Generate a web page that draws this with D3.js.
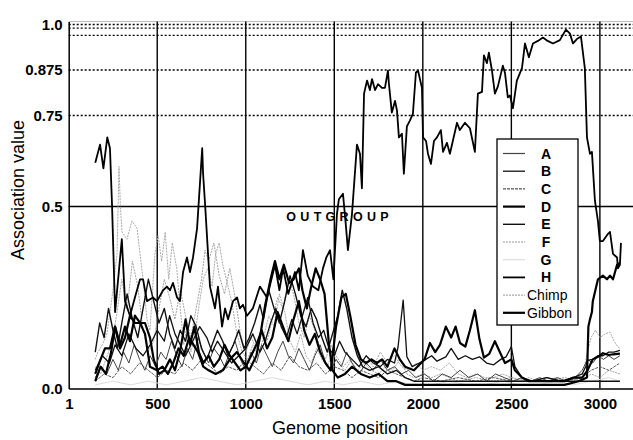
<!DOCTYPE html>
<html>
<head>
  <meta charset="utf-8">
  <title>Association value along the genome</title>
  <script src="https://d3js.org/d3.v7.min.js"></script>
  <style>
    body { margin: 0; background: #fff; }
    text { font-family: Arial, "Liberation Sans", Helvetica, sans-serif; }
  </style>
</head>
<body>
  <svg width="633" height="440"></svg>

  <script>
    // Each series: [genome position, association value]
    const seriesA = [[150,.03],[185,.06],[215,.04],[250,.08],[280,.05],[310,.10],[340,.07],[370,.12],[400,.08],[430,.05],[460,.09],[490,.06],[520,.10],[550,.08],[580,.13],[610,.09],[640,.06],[670,.11],[700,.08],[730,.14],[760,.10],[790,.07],[820,.11],[850,.09],[880,.06],[910,.10],[940,.13],[970,.08],[1000,.05],[1030,.10],[1060,.07],[1090,.12],[1120,.09],[1150,.06],[1180,.10],[1210,.13],[1240,.09],[1270,.07],[1300,.11],[1330,.08],[1360,.05],[1390,.09],[1420,.12],[1450,.07],[1480,.05],[1510,.08],[1540,.06],[1570,.10],[1600,.07],[1640,.04],[1680,.07],[1720,.05],[1760,.08],[1800,.05],[1840,.06],[1880,.04],[1920,.05],[1960,.03],[2010,.04],[2060,.02],[2110,.04],[2160,.03],[2210,.05],[2260,.03],[2310,.04],[2360,.02],[2410,.04],[2460,.03],[2510,.02],[2560,.03],[2610,.02],[2660,.03],[2710,.02],[2760,.03],[2810,.02],[2860,.03],[2900,.05],[2930,.08],[2960,.07],[2990,.09],[3020,.08],[3050,.09],[3080,.08],[3113,.09]];

    const seriesB = [[150,.05],[190,.09],[230,.07],[262,.12],[300,.09],[340,.15],[380,.11],[420,.09],[460,.12],[500,.16],[540,.13],[570,.20],[600,.15],[630,.12],[660,.09],[700,.13],[740,.17],[780,.14],[810,.10],[840,.13],[880,.10],[920,.07],[960,.09],[1000,.11],[1040,.15],[1080,.10],[1110,.13],[1140,.18],[1170,.22],[1200,.17],[1230,.14],[1260,.19],[1290,.15],[1320,.20],[1350,.25],[1380,.18],[1410,.14],[1440,.16],[1470,.11],[1500,.09],[1530,.13],[1560,.10],[1600,.08],[1640,.06],[1680,.09],[1720,.07],[1760,.06],[1800,.08],[1840,.07],[1860,.114],[1889,.243],[1910,.087],[1940,.06],[1980,.07],[2010,.078],[2050,.09],[2080,.075],[2130,.087],[2160,.11],[2200,.08],[2240,.09],[2280,.08],[2320,.087],[2360,.07],[2400,.065],[2440,.08],[2470,.087],[2500,.115],[2520,.06],[2560,.03],[2620,.02],[2700,.03],[2780,.02],[2850,.03],[2900,.04],[2920,.06],[2930,.077],[2960,.08],[2989,.09],[3017,.09],[3050,.10],[3080,.10],[3113,.105]];

    const seriesC = [[150,.02],[200,.04],[250,.03],[300,.06],[350,.04],[400,.07],[450,.05],[500,.03],[550,.05],[600,.04],[650,.07],[700,.05],[750,.08],[800,.06],[850,.04],[900,.06],[950,.05],[1000,.08],[1050,.06],[1100,.04],[1150,.07],[1200,.05],[1250,.09],[1300,.06],[1350,.05],[1400,.07],[1450,.04],[1500,.06],[1550,.05],[1600,.03],[1650,.05],[1700,.04],[1750,.03],[1800,.05],[1850,.04],[1900,.03],[1950,.02],[2000,.03],[2100,.02],[2200,.03],[2300,.02],[2400,.03],[2500,.02],[2600,.02],[2700,.03],[2800,.02],[2900,.03],[2950,.05],[3000,.06],[3050,.05],[3113,.07]];

    const seriesD = [[150,.02],[180,.06],[210,.04],[240,.10],[262,.17],[290,.12],[318,.17],[346,.13],[374,.20],[403,.18],[431,.18],[459,.14],[480,.08],[510,.04],[540,.05],[572,.08],[600,.05],[628,.10],[660,.19],[685,.12],[710,.17],[735,.10],[760,.07],[790,.09],[820,.06],[850,.08],[880,.12],[910,.09],[940,.07],[970,.05],[1000,.06],[1030,.09],[1060,.12],[1090,.16],[1120,.11],[1150,.14],[1180,.21],[1210,.17],[1240,.13],[1270,.19],[1300,.24],[1330,.16],[1360,.12],[1390,.15],[1420,.10],[1450,.07],[1480,.05],[1510,.17],[1540,.25],[1565,.26],[1590,.20],[1620,.12],[1650,.08],[1680,.07],[1710,.08],[1740,.07],[1770,.08],[1800,.06],[1840,.11],[1870,.08],[1900,.06],[1950,.05],[1990,.07],[2010,.08],[2040,.125],[2070,.10],[2097,.12],[2130,.17],[2160,.14],[2185,.17],[2210,.125],[2240,.115],[2266,.16],[2294,.215],[2320,.135],[2345,.085],[2375,.095],[2407,.13],[2440,.095],[2464,.07],[2500,.08],[2520,.05],[2560,.03],[2600,.02],[2650,.02],[2700,.02],[2750,.02],[2800,.02],[2850,.03],[2900,.03],[2930,.05],[2960,.08],[2989,.087],[3017,.097],[3050,.092],[3074,.094],[3113,.096]];

    const seriesE = [[150,.10],[175,.18],[200,.14],[225,.22],[250,.16],[275,.11],[300,.18],[330,.26],[360,.19],[390,.14],[420,.22],[450,.30],[480,.24],[510,.18],[540,.22],[570,.15],[600,.11],[630,.16],[660,.13],[690,.20],[720,.17],[750,.11],[780,.08],[810,.12],[840,.16],[870,.13],[900,.09],[930,.12],[960,.16],[990,.11],[1020,.14],[1050,.18],[1080,.23],[1100,.19],[1130,.27],[1160,.22],[1190,.18],[1220,.24],[1250,.31],[1280,.26],[1310,.20],[1340,.17],[1370,.22],[1400,.19],[1430,.14],[1460,.10],[1490,.15],[1520,.20],[1545,.27],[1570,.22],[1600,.14],[1630,.09],[1660,.06],[1700,.05],[1750,.06],[1800,.04],[1850,.05],[1900,.03],[1950,.02],[2000,.02],[2100,.02],[2200,.02],[2300,.02],[2400,.02],[2500,.02],[2600,.02],[2700,.02],[2800,.02],[2900,.02],[3000,.02],[3113,.02]];

    const seriesF = [[150,.06],[180,.04],[210,.08],[240,.12],[270,.20],[300,.30],[330,.22],[360,.35],[390,.28],[420,.16],[450,.10],[480,.13],[510,.22],[540,.30],[570,.25],[600,.19],[630,.27],[660,.20],[690,.14],[720,.22],[750,.30],[770,.38],[790,.35],[820,.40],[850,.31],[880,.26],[910,.33],[940,.25],[970,.15],[1000,.10],[1030,.14],[1060,.11],[1090,.16],[1120,.13],[1150,.19],[1180,.25],[1210,.22],[1240,.30],[1270,.26],[1300,.18],[1330,.14],[1360,.20],[1390,.16],[1420,.11],[1450,.08],[1480,.12],[1510,.09],[1550,.06],[1590,.08],[1630,.05],[1670,.07],[1710,.05],[1750,.04],[1790,.06],[1830,.05],[1870,.08],[1910,.04],[1950,.03],[2000,.04],[2050,.03],[2100,.04],[2150,.03],[2200,.02],[2300,.03],[2400,.02],[2500,.03],[2600,.02],[2700,.02],[2800,.03],[2900,.02],[2950,.04],[3000,.03],[3050,.05],[3113,.04]];

    const seriesG = [[150,.01],[250,.02],[350,.01],[450,.02],[550,.01],[650,.02],[750,.03],[850,.02],[950,.01],[1050,.02],[1150,.03],[1250,.02],[1350,.01],[1450,.02],[1550,.01],[1650,.02],[1750,.01],[1850,.02],[1950,.01],[2050,.01],[2150,.02],[2250,.01],[2350,.01],[2450,.02],[2550,.01],[2650,.01],[2750,.02],[2850,.01],[2950,.02],[3050,.03],[3113,.02]];

    const seriesH = [[150,.62],[177,.67],[196,.605],[218,.69],[233,.66],[245,.5],[262,.21],[283,.32],[300,.41],[318,.24],[346,.2],[374,.25],[403,.30],[420,.30],[442,.24],[476,.25],[499,.24],[533,.27],[555,.28],[572,.27],[589,.29],[612,.25],[628,.24],[646,.32],[668,.36],[685,.32],[702,.36],[725,.44],[754,.66],[759,.59],[771,.5],[798,.28],[826,.22],[843,.28],[866,.17],[883,.22],[900,.19],[928,.24],[951,.25],[967,.22],[984,.23],[1007,.2],[1040,.22],[1080,.28],[1120,.25],[1165,.34],[1190,.27],[1211,.33],[1240,.26],[1278,.32],[1300,.27],[1323,.38],[1350,.31],[1380,.28],[1410,.27],[1436,.33],[1455,.36],[1476,.38],[1495,.30],[1515,.48],[1526,.52],[1549,.535],[1565,.45],[1577,.38],[1600,.48],[1628,.67],[1645,.645],[1656,.55],[1668,.81],[1685,.846],[1701,.82],[1713,.85],[1730,.82],[1747,.836],[1769,.826],[1786,.826],[1803,.873],[1808,.84],[1825,.758],[1843,.79],[1854,.764],[1865,.69],[1882,.70],[1893,.59],[1910,.72],[1927,.736],[1944,.755],[1961,.868],[1973,.873],[1995,.826],[2001,.69],[2018,.68],[2029,.645],[2046,.617],[2063,.68],[2080,.69],[2102,.71],[2114,.65],[2136,.675],[2153,.645],[2193,.73],[2209,.71],[2238,.73],[2266,.715],[2294,.65],[2311,.81],[2334,.815],[2345,.915],[2362,.894],[2373,.923],[2390,.875],[2407,.81],[2424,.83],[2452,.887],[2464,.867],[2480,.80],[2492,.805],[2509,.77],[2531,.846],[2560,.88],[2577,.948],[2599,.91],[2622,.948],[2650,.955],[2678,.964],[2705,.955],[2735,.948],[2774,.957],[2808,.986],[2831,.975],[2848,.948],[2870,.96],[2893,.967],[2915,.88],[2927,.69],[2944,.645],[2955,.65],[2972,.516],[2983,.48],[2989,.46],[3000,.405],[3017,.405],[3046,.425],[3057,.43],[3074,.37],[3097,.36],[3102,.33],[3113,.34],[3119,.40]];

    const seriesChimp = [[150,.08],[165,.10],[190,.12],[216,.15],[250,.27],[273,.37],[284,.61],[292,.5],[301,.43],[329,.41],[357,.46],[386,.44],[403,.37],[420,.30],[442,.19],[459,.16],[487,.37],[505,.42],[525,.35],[545,.43],[565,.30],[585,.40],[610,.33],[630,.22],[650,.12],[670,.18],[690,.10],[710,.14],[740,.24],[760,.30],[785,.33],[810,.28],[830,.37],[850,.40],[870,.34],[895,.29],[920,.24],[950,.15],[980,.10],[1010,.08],[1040,.12],[1070,.09],[1100,.14],[1130,.20],[1160,.17],[1190,.26],[1220,.21],[1250,.13],[1280,.10],[1310,.15],[1340,.09],[1370,.07],[1400,.11],[1430,.08],[1460,.06],[1490,.10],[1520,.07],[1560,.05],[1600,.08],[1640,.06],[1680,.09],[1720,.06],[1760,.10],[1800,.07],[1840,.09],[1880,.06],[1920,.05],[1960,.07],[2000,.05],[2050,.06],[2100,.05],[2150,.07],[2200,.04],[2250,.03],[2300,.04],[2350,.03],[2400,.03],[2450,.04],[2500,.03],[2550,.02],[2600,.03],[2650,.02],[2700,.02],[2750,.03],[2800,.02],[2850,.02],[2900,.03],[2930,.10],[2950,.14],[2975,.16],[3000,.14],[3030,.15],[3057,.155],[3080,.13],[3100,.115],[3113,.11]];

    const seriesGibbon = [[150,.04],[180,.08],[205,.11],[233,.11],[261,.17],[290,.11],[318,.14],[346,.20],[374,.18],[403,.18],[431,.15],[459,.06],[499,.05],[530,.06],[560,.04],[590,.07],[620,.11],[650,.09],[680,.14],[705,.12],[730,.10],[760,.06],[790,.05],[830,.04],[870,.05],[910,.08],[950,.10],[990,.07],[1020,.05],[1060,.09],[1080,.14],[1110,.23],[1140,.30],[1165,.35],[1190,.30],[1215,.34],[1245,.29],[1270,.30],[1300,.33],[1320,.27],[1345,.22],[1370,.28],[1395,.33],[1420,.30],[1445,.26],[1470,.12],[1490,.05],[1520,.03],[1560,.04],[1600,.06],[1650,.04],[1700,.03],[1750,.04],[1800,.02],[1850,.02],[1900,.01],[1950,.01],[2000,.01],[2100,.01],[2200,.01],[2300,.01],[2400,.01],[2500,.01],[2600,.01],[2700,.01],[2800,.01],[2880,.02],[2927,.03],[2935,.17],[2944,.19],[2955,.21],[2960,.24],[2989,.30],[3017,.31],[3040,.30],[3057,.31],[3074,.30],[3097,.34],[3113,.345]];

    const seriesNames = ["A", "B", "C", "D", "E", "F", "G", "H", "Chimp", "Gibbon"];
    const seriesValues = [seriesA, seriesB, seriesC, seriesD, seriesE, seriesF, seriesG, seriesH, seriesChimp, seriesGibbon];

    const xTickValues = [1, 500, 1000, 1500, 2000, 2500, 3000];
    const gridPositions = [500, 1000, 1500, 2000, 2500, 3000];
    const yTickValues = [0, 0.5, 0.75, 0.875, 1.0];
    const yTickLabels = ["0.0", "0.5", "0.75", "0.875", "1.0"];
    const dottedLevels = [0.75, 0.875, 0.97, 0.99, 1.0];

    // line look per series (grey-scale scan)
    const styles = {
      A:      { stroke: "#444", width: 1,   dash: null },
      B:      { stroke: "#111", width: 1.3, dash: null },
      C:      { stroke: "#555", width: 1,   dash: "3,1" },
      D:      { stroke: "#000", width: 2.2, dash: null },
      E:      { stroke: "#111", width: 1.4, dash: null },
      F:      { stroke: "#999", width: 0.9, dash: "2,1" },
      G:      { stroke: "#ddd", width: 1,   dash: null },
      H:      { stroke: "#000", width: 1.8, dash: null },
      Chimp:  { stroke: "#aaa", width: 1,   dash: "2,1" },
      Gibbon: { stroke: "#000", width: 2.2, dash: null }
    };
    const drawOrder = ["G", "F", "Chimp", "C", "A", "B", "E", "D", "Gibbon", "H"];

    const W = 633, H = 440;
    const margin = { top: 21.6, right: 0, bottom: 51.5, left: 68.7 };
    const width = W - margin.left - margin.right;
    const height = H - margin.top - margin.bottom;

    const svg = d3.select("svg");
    const g = svg.append("g")
      .attr("transform", `translate(${margin.left},${margin.top})`);

    const x = d3.scaleLinear().domain([0, 3187]).range([0, width]);
    const y = d3.scaleLinear().domain([0, 1.008]).range([height, 0]);

    // top frame line, faint
    g.append("line")
      .attr("x1", 0).attr("x2", width)
      .attr("y1", y(1.008)).attr("y2", y(1.008))
      .attr("stroke", "#bbb").attr("stroke-width", 1);

    // dotted reference levels
    g.selectAll(".dotted")
      .data(dottedLevels)
      .join("line")
      .attr("x1", 0).attr("x2", width)
      .attr("y1", d => y(d)).attr("y2", d => y(d))
      .attr("stroke", "#000").attr("stroke-width", 1.3)
      .attr("stroke-dasharray", "2,2");

    // solid 0.5 line
    g.append("line")
      .attr("x1", 0).attr("x2", width)
      .attr("y1", y(0.5)).attr("y2", y(0.5))
      .attr("stroke", "#000").attr("stroke-width", 1.3);

    // vertical grid
    g.selectAll(".vgrid")
      .data(gridPositions)
      .join("line")
      .attr("x1", d => x(d)).attr("x2", d => x(d))
      .attr("y1", y(1.008)).attr("y2", height)
      .attr("stroke", "#000").attr("stroke-width", 1.4);

    g.append("text")
      .attr("x", x(1530)).attr("y", y(0.5) + 15)
      .attr("text-anchor", "middle")
      .attr("font-size", 12.5).attr("font-weight", "bold")
      .attr("letter-spacing", 4.3)
      .text("OUTGROUP");

    const line = d3.line()
      .x(d => x(d[0]))
      .y(d => y(d[1]));

    drawOrder.forEach(name => {
      const s = styles[name];
      g.append("path")
        .datum(seriesValues[seriesNames.indexOf(name)])
        .attr("fill", "none")
        .attr("stroke", s.stroke)
        .attr("stroke-width", s.width)
        .attr("stroke-dasharray", s.dash)
        .attr("stroke-linejoin", "round")
        .attr("d", line);
    });

    // axes
    const xAxis = g.append("g")
      .attr("transform", `translate(0,${height})`)
      .call(d3.axisBottom(x).tickValues(xTickValues).tickFormat(d3.format("d"))
        .tickSize(0).tickPadding(10));
    const yAxis = g.append("g")
      .call(d3.axisLeft(y).tickValues(yTickValues)
        .tickFormat((d, i) => yTickLabels[i]).tickSize(0).tickPadding(6));
    [xAxis, yAxis].forEach(a => {
      a.select(".domain").attr("stroke", "#000").attr("stroke-width", 1.5);
      a.selectAll("text")
        .attr("font-family", "Arial, 'Liberation Sans', sans-serif")
        .attr("font-size", 15).attr("font-weight", "bold").attr("fill", "#000");
    });

    svg.append("text")
      .attr("x", 340).attr("y", 434)
      .attr("text-anchor", "middle")
      .attr("font-size", 18)
      .text("Genome position");

    svg.append("text")
      .attr("transform", "translate(24,190) rotate(-90)")
      .attr("text-anchor", "middle")
      .attr("font-size", 18)
      .text("Association value");

    // legend
    const legend = svg.append("g").attr("transform", "translate(497,139)");
    legend.append("rect")
      .attr("width", 81).attr("height", 186)
      .attr("fill", "#fff").attr("stroke", "#000").attr("stroke-width", 1.3);
    const rows = legend.selectAll(".row")
      .data(seriesNames)
      .join("g")
      .attr("transform", (d, i) => `translate(0,${14.5 + i * 17.7})`);
    rows.append("line")
      .attr("x1", 6).attr("x2", 28)
      .attr("stroke", d => styles[d].stroke)
      .attr("stroke-width", d => Math.max(styles[d].width, 1.2))
      .attr("stroke-dasharray", d => styles[d].dash);
    rows.append("text")
      .attr("x", d => d.length > 1 ? 30 : 49)
      .attr("dy", "0.36em")
      .attr("text-anchor", d => d.length > 1 ? "start" : "middle")
      .attr("font-size", 14)
      .attr("font-weight", d => d.length > 1 ? "normal" : "bold")
      .text(d => d);
  </script>
</body>
</html>
